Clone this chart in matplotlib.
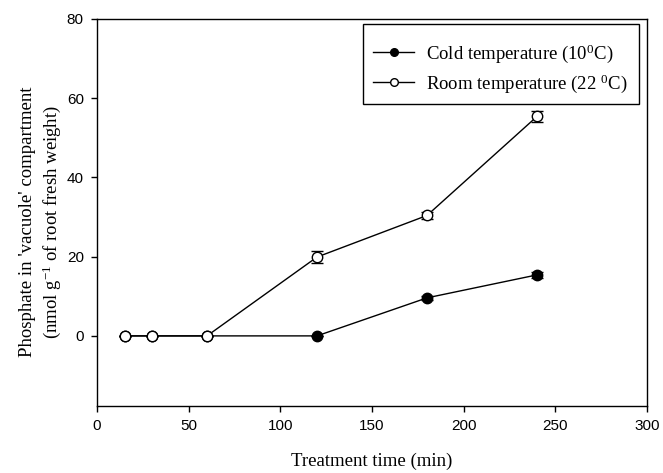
import matplotlib
matplotlib.use("Agg")
import matplotlib.pyplot as plt
from matplotlib.lines import Line2D
from matplotlib.patches import Rectangle

# Phosphate in the 'vacuole' compartment over treatment time
cold_time = [15, 30, 60, 120, 180, 240]
cold_phosphate = [0.0, 0.0, 0.0, 0.0, 9.6, 15.4]
cold_err = [0.0, 0.0, 0.0, 0.0, 0.5, 0.7]

room_time = [15, 30, 60, 120, 180, 240]
room_phosphate = [0.0, 0.0, 0.0, 19.9, 30.4, 55.4]
room_err = [0.0, 0.0, 0.0, 1.5, 0.8, 1.4]

x_ticks = [0, 50, 100, 150, 200, 250, 300]
y_ticks = [0, 20, 40, 60, 80]

serif = "Liberation Serif"
sans = "Liberation Sans"
plt.rcParams["mathtext.fontset"] = "custom"
plt.rcParams["mathtext.rm"] = serif
plt.rcParams["mathtext.it"] = serif

fig = plt.figure(figsize=(6.63, 4.73), dpi=100)
ax = fig.add_axes([97 / 663, 1 - 406 / 473, (647 - 97) / 663, (406 - 19) / 473])

ax.errorbar(cold_time, cold_phosphate, yerr=cold_err, fmt="-o", color="black",
            mfc="black", mec="black", ms=7.5, lw=1.0, capsize=4, elinewidth=1.0,
            capthick=1.0, zorder=2)
ax.errorbar(room_time, room_phosphate, yerr=room_err, fmt="-o", color="black",
            mfc="white", mec="black", ms=7.5, lw=1.0, capsize=4, elinewidth=1.0,
            capthick=1.0, zorder=3)

ax.set_xlim(0, 300)
ax.set_ylim(-17.7, 80)
ax.set_xticks(x_ticks)
ax.set_yticks(y_ticks)
ax.tick_params(direction="out", length=4.5, width=1.0, labelsize=11, pad=5,
               top=False, right=False)
for lab in ax.get_xticklabels() + ax.get_yticklabels():
    lab.set_fontfamily(sans)
for sp in ax.spines.values():
    sp.set_linewidth(1.0)

ax.set_xlabel("Treatment time (min)", fontfamily=serif, fontsize=13.5, labelpad=14)
ax.set_ylabel("Phosphate in 'vacuole' compartment\n(nmol g$^{-1}$ of root fresh weight)",
              fontfamily=serif, fontsize=13.5, linespacing=1.25)
ax.yaxis.set_label_coords(-0.062, 0.475)

# Legend entries drawn without their own frame; a plain box surrounds them
handles = [
    Line2D([], [], color="black", lw=1.0, marker="o", ms=5.5, mfc="black", mec="black"),
    Line2D([], [], color="black", lw=1.0, marker="o", ms=5.5, mfc="white", mec="black"),
]
labels = [r"Cold temperature (10$^{0}$C)", r"Room temperature (22 $^{0}$C)"]
leg = ax.legend(handles, labels, loc="center left",
                bbox_to_anchor=(373 / 663, 1 - 68.5 / 473), bbox_transform=fig.transFigure,
                prop={"family": serif, "size": 13.5}, frameon=False,
                handlelength=2.2, borderpad=0.0, labelspacing=0.38,
                handletextpad=0.62, borderaxespad=0)
leg.set_zorder(6)
box = Rectangle((363 / 663, 1 - 104 / 473), (639 - 363) / 663, 80 / 473,
                transform=fig.transFigure, facecolor="white", edgecolor="black",
                lw=1.0, zorder=5)
fig.add_artist(box)
fig.add_artist(leg)

fig.savefig("out.png", dpi=100)
